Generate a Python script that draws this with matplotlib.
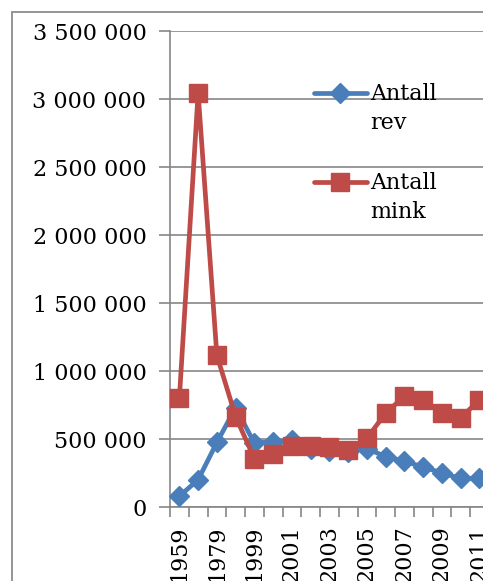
import numpy as np
import matplotlib
matplotlib.use("Agg")
import matplotlib.pyplot as plt
from matplotlib.lines import Line2D
from matplotlib.patches import Rectangle

years = ["1959", "1969", "1979", "1989", "1999", "2000", "2001", "2002", "2003",
         "2004", "2005", "2006", "2007", "2008", "2009", "2010", "2011"]
rev = [80000, 200000, 475000, 730000, 470000, 480000, 490000, 425000, 415000,
       405000, 430000, 370000, 335000, 295000, 250000, 210000, 210000]
mink = [800000, 3045000, 1115000, 665000, 355000, 390000, 450000, 450000, 440000,
        420000, 505000, 690000, 815000, 787000, 690000, 655000, 787000]
yticks = [0, 500000, 1000000, 1500000, 2000000, 2500000, 3000000, 3500000]
labels = ["Antall\nrev", "Antall\nmink"]

W, H = 483, 581
fig = plt.figure(figsize=(W / 100, H / 100), dpi=100)
plt.rcParams['font.family'] = ['DejaVu Serif']

N = len(years)
left_px, top_px, bottom_px = 170, 31, 507
cat_w = 18.75
ax = fig.add_axes([left_px / W, (H - bottom_px) / H, cat_w * N / W, (bottom_px - top_px) / H])

gray = "#868686"
blue = "#4A7EBB"
red = "#BE4B48"
x = np.arange(N)

ax.plot(x, rev, color=blue, lw=3.4, marker="D", markersize=10.5, zorder=3,
        solid_joinstyle="round", clip_on=False)
ax.plot(x, mink, color=red, lw=3.4, marker="s", markersize=13.5, zorder=4,
        solid_joinstyle="round", clip_on=False)

ax.set_xlim(-0.5, N - 0.5)
ax.set_ylim(0, 3500000)
ax.set_yticks(yticks)
ax.set_yticklabels([f"{v:,}".replace(",", " ") for v in yticks])
ax.yaxis.grid(True, color=gray, lw=1.2, zorder=0)
ax.tick_params(axis="y", length=8, width=1.2, color=gray, direction="out",
               labelsize=16, pad=9)

ax.set_xticks(np.arange(-0.5, N, 1))
ax.set_xticklabels([])
ax.tick_params(axis="x", which="major", length=7, width=1.2, color=gray, direction="out")
ax.set_xticks(np.arange(0, N, 2), minor=True)
ax.set_xticklabels([years[i] for i in range(0, N, 2)], minor=True, rotation=90)
ax.tick_params(axis="x", which="minor", length=0, labelsize=16, pad=13)

for s in ["top", "right"]:
    ax.spines[s].set_visible(False)
for s in ["left", "bottom"]:
    ax.spines[s].set_color(gray)
    ax.spines[s].set_linewidth(1.2)
ax.set_axisbelow(True)

# legend (manual, Excel-style)
def px2ax(px, py):
    return ((px - left_px) / (cat_w * N), (bottom_px - py) / (bottom_px - top_px))

for (py, col, mk, ms, lab) in [(93, blue, "D", 10.5, labels[0]), (182, red, "s", 13.5, labels[1])]:
    x0, y0 = px2ax(314, py)
    x1, _ = px2ax(367, py)
    xm, _ = px2ax(340, py)
    ax.add_line(Line2D([x0, x1], [y0, y0], transform=ax.transAxes, color=col, lw=3.4,
                       solid_capstyle="round", zorder=5))
    ax.add_line(Line2D([xm], [y0], transform=ax.transAxes, color=col, marker=mk,
                       markersize=ms, zorder=6))
    tx, ty = px2ax(370, py - 10)
    ax.text(tx, ty, lab, transform=ax.transAxes, fontsize=16, va="top", ha="left",
            linespacing=1.4, zorder=6)

# chart area border
fig.patches.append(Rectangle((11.5 / W, -0.1), 1.2, (H - 11.5) / H + 0.1,
                             transform=fig.transFigure, fill=False,
                             edgecolor="#8C8C8C", lw=1.3))

fig.savefig("out.png", dpi=100)
